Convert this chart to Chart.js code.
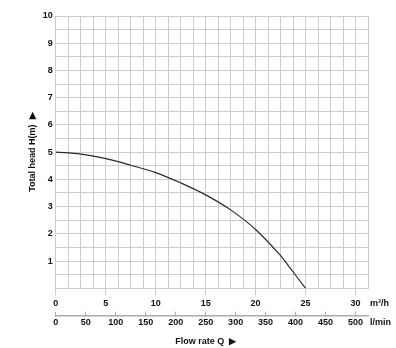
<!DOCTYPE html>
<html><head><meta charset="utf-8">
<script src="https://cdn.jsdelivr.net/npm/chart.js@4"></script>
<style>html,body{margin:0;padding:0;background:#fff}canvas{display:block}</style>
</head><body><canvas id="c" width="396" height="348"></canvas>
<script>
// Pump curve: total head (m) vs flow rate (m³/h)
const flowM3h = [0, 2.5, 5, 7.5, 10, 12.5, 15, 17.5, 20, 22.5, 23.5, 25];
const headM   = [5.0, 4.93, 4.76, 4.52, 4.25, 3.87, 3.43, 2.88, 2.16, 1.2, 0.72, 0];
const m3hTicks = [0, 5, 10, 15, 20, 25, 30];
const lminTicks = [0, 50, 100, 150, 200, 250, 300, 350, 400, 450, 500];
const headTicks = [1, 2, 3, 4, 5, 6, 7, 8, 9, 10];
const xTitle = 'Flow rate Q  \u25B6     ';
const yTitle = 'Total head H(m)  \u25B6';
const unitTop = 'm\u00B3/h';
const unitBottom = 'l/min';

const xMax = 31.25, yMax = 10, gridStepX = 1.25, gridStepY = 0.5;
const gridColor = '#cccccc';
const textColor = '#111';
const font = {family: "'Liberation Sans', Arial, sans-serif", size: 9, weight: 'bold'};
const stepTicks = (max, step) => { const a = []; for (let v = 0; v <= max + 1e-9; v += step) a.push({value: +v.toFixed(4)}); return a; };

const unitLabels = {
  id: 'unitLabels',
  afterDraw(chart) {
    const ctx = chart.ctx;
    ctx.save();
    ctx.font = "bold 9px 'Liberation Sans', Arial, sans-serif";
    ctx.fillStyle = textColor;
    ctx.textAlign = 'left';
    ctx.textBaseline = 'middle';
    [['x', unitTop], ['x2', unitBottom]].forEach(([id, txt]) => {
      const s = chart.scales[id];
      const items = s.getLabelItems ? s.getLabelItems(chart.chartArea) : null;
      const y = items && items.length ? items[0].options.translation[1] + (items[0].textOffset || 0) : s.top + 10;
      ctx.fillText(txt, chart.chartArea.right + 2, y);
    });
    ctx.restore();
  }
};

new Chart(document.getElementById('c'), {
  type: 'line',
  data: {
    datasets: [{
      data: flowM3h.map((x, i) => ({x, y: headM[i]})),
      borderColor: '#2b2b2b', borderWidth: 1.2, pointRadius: 0, fill: false,
      tension: 0.35
    }]
  },
  options: {
    responsive: false, animation: false, events: [],
    layout: {padding: {left: 27, top: 16, right: 28, bottom: 0}},
    plugins: {legend: {display: false}, tooltip: {enabled: false}},
    scales: {
      x: {
        type: 'linear', position: 'bottom', weight: 0, min: 0, max: xMax,
        afterBuildTicks: s => { s.ticks = stepTicks(xMax, gridStepX); },
        afterFit: s => { s.height += 4.6; },
        grid: {color: gridColor, lineWidth: 1, tickLength: 7,
               tickColor: c => (c.tick && m3hTicks.includes(c.tick.value)) ? gridColor : 'rgba(0,0,0,0)'},
        border: {color: gridColor},
        ticks: {autoSkip: false, maxRotation: 0, padding: 2.5, color: textColor, font,
                callback: v => m3hTicks.includes(v) ? String(v) : ''}
      },
      x2: {
        type: 'linear', position: 'bottom', weight: 1, min: 0, max: xMax * 1000 / 60,
        afterBuildTicks: s => { s.ticks = lminTicks.map(v => ({value: v})); },
        grid: {drawOnChartArea: false, tickLength: -4, tickColor: '#aaa'},
        border: {color: '#aaa', width: 1.5},
        ticks: {autoSkip: false, maxRotation: 0, padding: 5.5, color: textColor, font},
        title: {display: true, text: xTitle, color: textColor, font, padding: {top: 3.1, bottom: 0.6}}
      },
      y: {
        min: 0, max: yMax,
        afterBuildTicks: s => { s.ticks = stepTicks(yMax, gridStepY); },
        grid: {color: gridColor, drawTicks: false},
        border: {color: gridColor},
        ticks: {autoSkip: false, padding: 3, color: textColor, font,
                callback: v => headTicks.includes(v) ? String(v) : ''},
        title: {display: true, text: yTitle, color: textColor, font, padding: {top: 0, bottom: 2}}
      }
    }
  },
  plugins: [unitLabels]
});
</script>
</body></html>
